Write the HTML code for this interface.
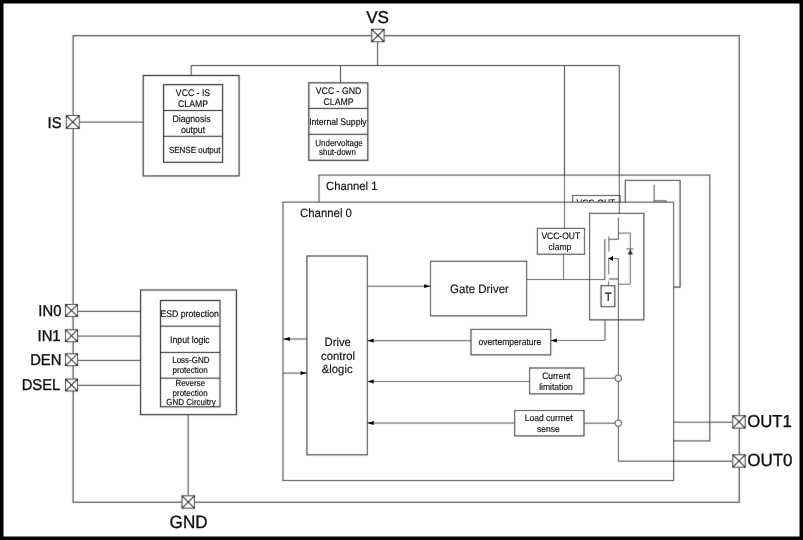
<!DOCTYPE html>
<html><head><meta charset="utf-8"><style>
html,body{margin:0;padding:0;background:#000;width:803px;height:540px;overflow:hidden}
svg{display:block;font-family:"Liberation Sans",sans-serif;text-rendering:geometricPrecision;will-change:transform}
</style></head><body>
<svg width="803" height="540" viewBox="0 0 803 540">
<defs><filter id="soft" x="0" y="0" width="803" height="540" filterUnits="userSpaceOnUse">
<feConvolveMatrix order="3" kernelMatrix="0.01 0.07 0.01 0.07 0.68 0.07 0.01 0.07 0.01" edgeMode="duplicate" preserveAlpha="false"/>
</filter>
<clipPath id="ch0top"><rect x="0" y="0" width="803" height="201.7"/></clipPath></defs>
<rect x="0" y="0" width="803" height="540" fill="#000"/>
<rect x="3.5" y="3.5" width="796" height="533" fill="#fff"/>
<g filter="url(#soft)">
<rect x="73.1" y="35.7" width="666.15" height="466.55" fill="none" stroke="#404040" stroke-width="1.1"/>
<line x1="191.2" y1="65.5" x2="619.3" y2="65.5" stroke="#404040" stroke-width="1.0"/>
<line x1="191.2" y1="65.5" x2="191.2" y2="75.5" stroke="#404040" stroke-width="1.0"/>
<circle cx="219.8" cy="80.4" r="0.6" fill="#bbb"/>
<line x1="340.5" y1="65.5" x2="340.5" y2="82.85" stroke="#404040" stroke-width="1.0"/>
<line x1="377.6" y1="42" x2="377.6" y2="65.5" stroke="#404040" stroke-width="1.0"/>
<rect x="143.2" y="75.5" width="95.9" height="100.45" fill="none" stroke="#262626" stroke-width="1.1"/>
<rect x="163.55" y="84.65" width="59.05" height="77.65" fill="none" stroke="#262626" stroke-width="1.1"/>
<line x1="163.55" y1="110.5" x2="222.6" y2="110.5" stroke="#262626" stroke-width="1.0"/>
<line x1="163.55" y1="136.3" x2="222.6" y2="136.3" stroke="#262626" stroke-width="1.0"/>
<line x1="78.8" y1="122.1" x2="143.2" y2="122.1" stroke="#404040" stroke-width="1.0"/>
<rect x="308.85" y="82.85" width="59.0" height="77.45" fill="none" stroke="#262626" stroke-width="1.1"/>
<line x1="308.85" y1="108.4" x2="367.85" y2="108.4" stroke="#262626" stroke-width="1.0"/>
<line x1="308.85" y1="134.3" x2="367.85" y2="134.3" stroke="#262626" stroke-width="1.0"/>
<rect x="319.0" y="175.1" width="390.7" height="265.8" fill="#fff" stroke="#404040" stroke-width="1.1"/>
<rect x="572.6" y="195.5" width="47.4" height="34.5" fill="#fff" stroke="#262626" stroke-width="1.1"/>
<rect x="625.3" y="180.4" width="54.8" height="106.7" fill="#fff" stroke="#262626" stroke-width="1.1"/>
<line x1="654.2" y1="184.8" x2="654.2" y2="210" stroke="#404040" stroke-width="1.0"/>
<line x1="654.2" y1="200.8" x2="666" y2="200.8" stroke="#404040" stroke-width="1.0"/>
<line x1="666" y1="200.8" x2="666" y2="215" stroke="#404040" stroke-width="1.0"/>
<line x1="673.6" y1="422.2" x2="732.2" y2="422.2" stroke="#404040" stroke-width="1.0"/>
<rect x="283" y="202.2" width="390.6" height="278.3" fill="#fff" stroke="#404040" stroke-width="1.1"/>
<line x1="564.5" y1="65.5" x2="564.5" y2="228.4" stroke="#404040" stroke-width="1.0"/>
<line x1="619.3" y1="65.5" x2="619.3" y2="213.4" stroke="#404040" stroke-width="1.0"/>
<rect x="306.9" y="256" width="60.5" height="198.8" fill="none" stroke="#262626" stroke-width="1.1"/>
<rect x="430.5" y="261.3" width="96.1" height="54.55" fill="none" stroke="#262626" stroke-width="1.1"/>
<line x1="367.4" y1="286.2" x2="430.5" y2="286.2" stroke="#404040" stroke-width="1.0"/>
<line x1="526.5" y1="279.5" x2="604.8" y2="279.5" stroke="#404040" stroke-width="1.0"/>
<rect x="537.4" y="228.4" width="47.1" height="25.9" fill="none" stroke="#262626" stroke-width="1.1"/>
<line x1="563.5" y1="254.3" x2="563.5" y2="279.5" stroke="#404040" stroke-width="1.0"/>
<rect x="589.55" y="213.4" width="54.3" height="106.45" fill="none" stroke="#262626" stroke-width="1.1"/>
<line x1="618.4" y1="217.6" x2="618.4" y2="239.3" stroke="#333" stroke-width="1.0"/>
<line x1="608.7" y1="239.3" x2="618.4" y2="239.3" stroke="#333" stroke-width="1.0"/>
<line x1="608.9" y1="236.4" x2="608.9" y2="251.7" stroke="#555" stroke-width="1.0"/>
<polyline points="618.4,233.1 630.3,233.1 630.3,284.2 618.3,284.2" fill="none" stroke="#555" stroke-width="1.0"/>
<line x1="626.4" y1="248.9" x2="633.7" y2="248.9" stroke="#555" stroke-width="1.0"/>
<polygon points="630.3,249 627.6,254.6 633,254.6" fill="#222"/>
<line x1="604.8" y1="239.1" x2="604.8" y2="280" stroke="#333" stroke-width="1.0"/>
<polyline points="608.7,258.5 618.4,258.5 618.4,461.2 732.2,461.2" fill="none" stroke="#333" stroke-width="1.0"/>
<line x1="608.7" y1="257.8" x2="608.7" y2="274.5" stroke="#555" stroke-width="1.0"/>
<line x1="609" y1="279" x2="618.4" y2="279" stroke="#333" stroke-width="1.0"/>
<line x1="608.6" y1="281" x2="608.6" y2="285.7" stroke="#555" stroke-width="1.0"/>
<rect x="601.1" y="285.7" width="13.7" height="20.9" fill="none" stroke="#262626" stroke-width="1.1"/>
<polyline points="605,320 605,340.5 550.7,340.5" fill="none" stroke="#404040" stroke-width="1.0"/>
<rect x="471.0" y="329.4" width="79.7" height="25.5" fill="none" stroke="#262626" stroke-width="1.1"/>
<line x1="471.0" y1="340.7" x2="367.4" y2="340.7" stroke="#404040" stroke-width="1.0"/>
<rect x="529.55" y="368.0" width="54.35" height="25.85" fill="none" stroke="#262626" stroke-width="1.1"/>
<line x1="584.2" y1="378.3" x2="615" y2="378.3" stroke="#404040" stroke-width="1.0"/>
<line x1="529.4" y1="381.5" x2="367.4" y2="381.5" stroke="#404040" stroke-width="1.0"/>
<rect x="514.65" y="410.5" width="69.35" height="25.4" fill="none" stroke="#262626" stroke-width="1.1"/>
<line x1="584.2" y1="423.2" x2="615" y2="423.2" stroke="#404040" stroke-width="1.0"/>
<line x1="514.5" y1="423" x2="367.4" y2="423" stroke="#404040" stroke-width="1.0"/>
<circle cx="618.3" cy="378.3" r="3.3" fill="#fff" stroke="#222" stroke-width="1"/>
<circle cx="618.3" cy="423.2" r="3.3" fill="#fff" stroke="#222" stroke-width="1"/>
<line x1="306.9" y1="339" x2="283" y2="339" stroke="#404040" stroke-width="1.0"/>
<line x1="283" y1="373.1" x2="306.9" y2="373.1" stroke="#404040" stroke-width="1.0"/>
<rect x="140.6" y="290.0" width="95.85" height="124.65" fill="none" stroke="#262626" stroke-width="1.1"/>
<rect x="160.5" y="300.5" width="59.5" height="106.3" fill="none" stroke="#262626" stroke-width="1.1"/>
<line x1="160.5" y1="326.2" x2="220.0" y2="326.2" stroke="#262626" stroke-width="1.0"/>
<line x1="160.5" y1="352.4" x2="220.0" y2="352.4" stroke="#262626" stroke-width="1.0"/>
<line x1="160.5" y1="378.2" x2="220.0" y2="378.2" stroke="#262626" stroke-width="1.0"/>
<line x1="78" y1="311.3" x2="140.6" y2="311.3" stroke="#404040" stroke-width="1.0"/>
<line x1="78" y1="336.1" x2="140.6" y2="336.1" stroke="#404040" stroke-width="1.0"/>
<line x1="78" y1="360.4" x2="140.6" y2="360.4" stroke="#404040" stroke-width="1.0"/>
<line x1="78" y1="385.3" x2="140.6" y2="385.3" stroke="#404040" stroke-width="1.0"/>
<line x1="188.2" y1="414.65" x2="188.2" y2="495.6" stroke="#404040" stroke-width="1.0"/>
<rect x="371.7" y="29.3" width="12.4" height="12.4" fill="#fff" stroke="#333" stroke-width="1.0"/>
<line x1="371.7" y1="29.3" x2="384.1" y2="41.7" stroke="#000" stroke-width="1.05"/>
<line x1="384.1" y1="29.3" x2="371.7" y2="41.7" stroke="#000" stroke-width="1.05"/>
<rect x="66.3" y="115.55" width="12.9" height="12.9" fill="#fff" stroke="#333" stroke-width="1.0"/>
<line x1="66.3" y1="115.55" x2="79.2" y2="128.45" stroke="#000" stroke-width="1.05"/>
<line x1="79.2" y1="115.55" x2="66.3" y2="128.45" stroke="#000" stroke-width="1.05"/>
<rect x="65.55" y="304.55" width="11.9" height="11.9" fill="#fff" stroke="#333" stroke-width="1.0"/>
<line x1="65.55" y1="304.55" x2="77.45" y2="316.45" stroke="#000" stroke-width="1.05"/>
<line x1="77.45" y1="304.55" x2="65.55" y2="316.45" stroke="#000" stroke-width="1.05"/>
<rect x="65.55" y="329.75" width="11.9" height="11.9" fill="#fff" stroke="#333" stroke-width="1.0"/>
<line x1="65.55" y1="329.75" x2="77.45" y2="341.65" stroke="#000" stroke-width="1.05"/>
<line x1="77.45" y1="329.75" x2="65.55" y2="341.65" stroke="#000" stroke-width="1.05"/>
<rect x="65.55" y="353.75" width="11.9" height="11.9" fill="#fff" stroke="#333" stroke-width="1.0"/>
<line x1="65.55" y1="353.75" x2="77.45" y2="365.65" stroke="#000" stroke-width="1.05"/>
<line x1="77.45" y1="353.75" x2="65.55" y2="365.65" stroke="#000" stroke-width="1.05"/>
<rect x="65.55" y="379.05" width="11.9" height="11.9" fill="#fff" stroke="#333" stroke-width="1.0"/>
<line x1="65.55" y1="379.05" x2="77.45" y2="390.95" stroke="#000" stroke-width="1.05"/>
<line x1="77.45" y1="379.05" x2="65.55" y2="390.95" stroke="#000" stroke-width="1.05"/>
<rect x="182.0" y="495.8" width="12.4" height="12.4" fill="#fff" stroke="#333" stroke-width="1.0"/>
<line x1="182.0" y1="495.8" x2="194.4" y2="508.2" stroke="#000" stroke-width="1.05"/>
<line x1="194.4" y1="495.8" x2="182.0" y2="508.2" stroke="#000" stroke-width="1.05"/>
<rect x="732.8" y="415.7" width="12.4" height="12.4" fill="#fff" stroke="#333" stroke-width="1.0"/>
<line x1="732.8" y1="415.7" x2="745.2" y2="428.1" stroke="#000" stroke-width="1.05"/>
<line x1="745.2" y1="415.7" x2="732.8" y2="428.1" stroke="#000" stroke-width="1.05"/>
<rect x="732.8" y="454.8" width="12.4" height="12.4" fill="#fff" stroke="#333" stroke-width="1.0"/>
<line x1="732.8" y1="454.8" x2="745.2" y2="467.2" stroke="#000" stroke-width="1.05"/>
<line x1="745.2" y1="454.8" x2="732.8" y2="467.2" stroke="#000" stroke-width="1.05"/>
</g>
<g>
<g><text x="193" y="95.5" font-size="8.7" text-anchor="middle" fill="#111" stroke="#111" stroke-width="0.15" transform="translate(0,-9.55) scale(1,1.1)">VCC - IS</text></g>
<g><text x="193" y="106.8" font-size="8.7" text-anchor="middle" fill="#111" stroke="#111" stroke-width="0.15" transform="translate(0,-10.68) scale(1,1.1)">CLAMP</text></g>
<g><text x="191.5" y="121.7" font-size="8.7" text-anchor="middle" fill="#111" stroke="#111" stroke-width="0.15" transform="translate(0,-12.17) scale(1,1.1)">Diagnosis</text></g>
<g><text x="193" y="132.6" font-size="8.7" text-anchor="middle" fill="#111" stroke="#111" stroke-width="0.15" transform="translate(0,-13.26) scale(1,1.1)">output</text></g>
<g><text x="194.7" y="152.5" font-size="8" text-anchor="middle" fill="#111" stroke="#111" stroke-width="0.15" transform="translate(0,-15.25) scale(1,1.1)">SENSE output</text></g>
<g><text x="338.5" y="93.5" font-size="8.7" text-anchor="middle" fill="#111" stroke="#111" stroke-width="0.15" transform="translate(0,-9.35) scale(1,1.1)">VCC - GND</text></g>
<g><text x="338.5" y="104.7" font-size="8.7" text-anchor="middle" fill="#111" stroke="#111" stroke-width="0.15" transform="translate(0,-10.47) scale(1,1.1)">CLAMP</text></g>
<g><text x="337.9" y="124.7" font-size="8.65" text-anchor="middle" fill="#111" stroke="#111" stroke-width="0.15" transform="translate(0,-12.47) scale(1,1.1)">Internal Supply</text></g>
<g><text x="339" y="145.5" font-size="8" text-anchor="middle" fill="#111" stroke="#111" stroke-width="0.15" transform="translate(0,-14.55) scale(1,1.1)">Undervoltage</text></g>
<g><text x="337.4" y="155.2" font-size="8" text-anchor="middle" fill="#111" stroke="#111" stroke-width="0.15" transform="translate(0,-15.52) scale(1,1.1)">shut-down</text></g>
<g><text x="326.0" y="190" font-size="11.3" text-anchor="start" fill="#111" stroke="#111" stroke-width="0.15" transform="translate(0,-9.5) scale(1,1.05)">Channel 1</text></g>
<g clip-path="url(#ch0top)"><text x="576.5" y="206.1" font-size="8.5" text-anchor="start" fill="#111" stroke="#111" stroke-width="0.15" transform="translate(0,-20.61) scale(1,1.1)">VCC-OUT</text></g>
<g><text x="300.0" y="217.4" font-size="11.4" text-anchor="start" fill="#111" stroke="#111" stroke-width="0.15" transform="translate(0,-10.87) scale(1,1.05)">Channel 0</text></g>
<g><text x="337.7" y="346.2" font-size="11.3" text-anchor="middle" fill="#111" stroke="#111" stroke-width="0.15" transform="translate(0,-17.31) scale(1,1.05)">Drive</text></g>
<g><text x="338" y="359.6" font-size="11.3" text-anchor="middle" fill="#111" stroke="#111" stroke-width="0.15" transform="translate(0,-17.98) scale(1,1.05)">control</text></g>
<g><text x="337.2" y="373" font-size="11.3" text-anchor="middle" fill="#111" stroke="#111" stroke-width="0.15" transform="translate(0,-18.65) scale(1,1.05)">&amp;logic</text></g>
<g><text x="479.5" y="293.0" font-size="11.5" text-anchor="middle" fill="#111" stroke="#111" stroke-width="0.15" transform="translate(0,-14.65) scale(1,1.05)">Gate Driver</text></g>
<polygon points="430.5,286.2 424.2,284.3 424.2,288.1" fill="#000"/>
<g><text x="560.8" y="238.7" font-size="8.5" text-anchor="middle" fill="#111" stroke="#111" stroke-width="0.15" transform="translate(0,-23.87) scale(1,1.1)">VCC-OUT</text></g>
<g><text x="559.9" y="249.5" font-size="8.5" text-anchor="middle" fill="#111" stroke="#111" stroke-width="0.15" transform="translate(0,-24.95) scale(1,1.1)">clamp</text></g>
<polygon points="608.3,258.6 613.0,256.1 613.0,261.1" fill="#000"/>
<g><text x="608.3" y="301" font-size="11.5" text-anchor="middle" fill="#111" stroke="#111" stroke-width="0.15" transform="translate(0,-15.05) scale(1,1.05)">T</text></g>
<polygon points="550.7,340.5 557.0,338.6 557.0,342.4" fill="#000"/>
<g><text x="509.8" y="345.3" font-size="8.55" text-anchor="middle" fill="#111" stroke="#111" stroke-width="0.15" transform="translate(0,-34.53) scale(1,1.1)">overtemperature</text></g>
<polygon points="367.4,340.7 373.7,338.8 373.7,342.6" fill="#000"/>
<g><text x="556.3" y="379.4" font-size="8.5" text-anchor="middle" fill="#111" stroke="#111" stroke-width="0.15" transform="translate(0,-37.94) scale(1,1.1)">Current</text></g>
<g><text x="556" y="389.6" font-size="8.5" text-anchor="middle" fill="#111" stroke="#111" stroke-width="0.15" transform="translate(0,-38.96) scale(1,1.1)">limitation</text></g>
<polygon points="367.4,381.5 373.7,379.6 373.7,383.4" fill="#000"/>
<g><text x="548.7" y="421.4" font-size="8.5" text-anchor="middle" fill="#111" stroke="#111" stroke-width="0.15" transform="translate(0,-42.14) scale(1,1.1)">Load currnet</text></g>
<g><text x="548.3" y="431.6" font-size="8.5" text-anchor="middle" fill="#111" stroke="#111" stroke-width="0.15" transform="translate(0,-43.16) scale(1,1.1)">sense</text></g>
<polygon points="367.4,423 373.7,421.1 373.7,424.9" fill="#000"/>
<polygon points="283.5,339 289.8,337.1 289.8,340.9" fill="#000"/>
<polygon points="306.9,373.1 300.59999999999997,371.2 300.59999999999997,375.0" fill="#000"/>
<g><text x="189.6" y="316.9" font-size="8.7" text-anchor="middle" fill="#111" stroke="#111" stroke-width="0.15" transform="translate(0,-31.69) scale(1,1.1)">ESD protection</text></g>
<g><text x="189.9" y="342.8" font-size="8.7" text-anchor="middle" fill="#111" stroke="#111" stroke-width="0.15" transform="translate(0,-34.28) scale(1,1.1)">Input logic</text></g>
<g><text x="190.9" y="363.1" font-size="8" text-anchor="middle" fill="#111" stroke="#111" stroke-width="0.15" transform="translate(0,-36.31) scale(1,1.1)">Loss-GND</text></g>
<g><text x="190.1" y="373.4" font-size="8" text-anchor="middle" fill="#111" stroke="#111" stroke-width="0.15" transform="translate(0,-37.34) scale(1,1.1)">protection</text></g>
<g><text x="190.3" y="386.1" font-size="8" text-anchor="middle" fill="#111" stroke="#111" stroke-width="0.15" transform="translate(0,-38.61) scale(1,1.1)">Reverse</text></g>
<g><text x="190.1" y="396.1" font-size="8" text-anchor="middle" fill="#111" stroke="#111" stroke-width="0.15" transform="translate(0,-39.61) scale(1,1.1)">protection</text></g>
<g><text x="191" y="405.4" font-size="8" text-anchor="middle" fill="#111" stroke="#111" stroke-width="0.15" transform="translate(0,-40.54) scale(1,1.1)">GND Circuitry</text></g>
<g><text x="377.6" y="23.4" font-size="17.1" text-anchor="middle" fill="#111" stroke="#111" stroke-width="0.35" transform="translate(0,-0.117) scale(1,1.005)">VS</text></g>
<g><text x="61.6" y="127.7" font-size="14.8" text-anchor="end" fill="#111" stroke="#111" stroke-width="0.35" transform="translate(0,-7.662) scale(1,1.06)">IS</text></g>
<g><text x="61.4" y="316" font-size="14.8" text-anchor="end" fill="#111" stroke="#111" stroke-width="0.35" transform="translate(0,-18.96) scale(1,1.06)">IN0</text></g>
<g><text x="60.6" y="341.1" font-size="14.8" text-anchor="end" fill="#111" stroke="#111" stroke-width="0.35" transform="translate(0,-20.466) scale(1,1.06)">IN1</text></g>
<g><text x="61.4" y="365" font-size="14.8" text-anchor="end" fill="#111" stroke="#111" stroke-width="0.35" transform="translate(0,-21.9) scale(1,1.06)">DEN</text></g>
<g><text x="60.3" y="390.3" font-size="14.8" text-anchor="end" fill="#111" stroke="#111" stroke-width="0.35" transform="translate(0,-23.418) scale(1,1.06)">DSEL</text></g>
<g><text x="188.6" y="527.7" font-size="17.1" text-anchor="middle" fill="#111" stroke="#111" stroke-width="0.35" transform="translate(0,-21.108) scale(1,1.04)">GND</text></g>
<g><text x="747.2" y="427.3" font-size="16.7" text-anchor="start" fill="#111" stroke="#111" stroke-width="0.35" transform="translate(0,-17.092) scale(1,1.04)">OUT1</text></g>
<g><text x="747.2" y="466.3" font-size="17.0" text-anchor="start" fill="#111" stroke="#111" stroke-width="0.35" transform="translate(0,-18.652) scale(1,1.04)">OUT0</text></g>
</g>
</svg>
</body></html>
